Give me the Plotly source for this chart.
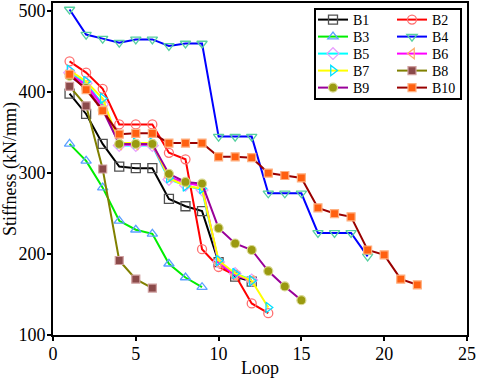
import plotly.graph_objects as go

names = ["B1", "B2", "B3", "B4", "B5", "B6", "B7", "B8", "B9", "B10"]
B1 = [398, 373, 336, 308, 306, 306, 268, 259, 253, 190, 172, 166]
B2 = [438, 424, 404, 360, 360, 360, 325, 317, 206, 184, 174, 139, 127]
B3 = [336, 315, 282, 241, 230, 225, 188, 171, 159]
B4 = [502, 471, 466, 461, 465, 465, 457, 460, 460, 345, 345, 345, 275, 275, 275, 226, 226, 226, 197]
B5 = [424, 411, 385, 334, 334, 334, 292, 285, 279, 190, 176, 168]
B6 = [422, 409, 383, 335, 335, 335, 295, 288, 284, 189, 174, 167]
B7 = [427, 413, 392, 337, 337, 337, 294, 284, 281, 192, 176, 167, 134]
B8 = [407, 383, 305, 192, 169, 158]
B9 = [420, 405, 378, 336, 336, 336, 299, 289, 287, 232, 213, 205, 179, 160, 143]
B10 = [422, 403, 377, 348, 349, 349, 337, 337, 337, 320, 320, 319, 300, 297, 294, 257, 250, 246, 205, 199, 169, 162]
series = [B1, B2, B3, B4, B5, B6, B7, B8, B9, B10]

line_colors = ["#000000", "#ff0000", "#00ee00", "#0000ff", "#00ffff",
               "#ff00ff", "#ffff00", "#808000", "#990099", "#990000"]
symbols = ["square-open", "circle-open", "triangle-up-open", "triangle-down-open",
           "diamond-open", "triangle-left-open", "triangle-right-open",
           "square", "circle", "square"]
mk_colors = ["#505050", "#ff7070", "#5aa0ff", "#55d0a0", "#e8a0ff",
             "#ffb070", "#00e0ff", "#8b4a4a", "#9a9a10", "#ff6010"]
mk_line = ["#505050", "#ff7070", "#5aa0ff", "#55d0a0", "#e8a0ff",
           "#ffb070", "#00e0ff", "#d0a0a0", "#d8d890", "#ffb080"]

FONT = "Liberation Serif, Times New Roman, serif"
fig = go.Figure()

L, R, T, B = 53, 10, 3, 43
W, H = 477, 378
pw, ph = W - L - R, H - T - B

def px2x(p):
    return (p - L) / pw

def py2y(p):
    return 1 - (p - T) / ph

row_centers = [20, 37, 54, 71, 88]
col_left = [313, 392]

layout_legends = {}
for i, (n, ys) in enumerate(zip(names, series)):
    xs = list(range(1, len(ys) + 1))
    lg = "legend" if i == 0 else f"legend{i+1}"
    filled = not symbols[i].endswith("open")
    fig.add_trace(go.Scatter(
        x=xs, y=ys, name=n, mode="lines+markers",
        line=dict(color=line_colors[i], width=2),
        marker=dict(symbol=symbols[i], size=9 if i != 7 and i != 9 else 8,
                    color=mk_colors[i],
                    line=dict(color=mk_line[i], width=1.2 if filled else 1.3)),
        legend=lg,
    ))
    r, c = i // 2, i % 2
    layout_legends[lg] = dict(
        x=px2x(col_left[c]), y=py2y(row_centers[r]),
        xanchor="left", yanchor="middle",
        bgcolor="rgba(0,0,0,0)", borderwidth=0,
        font=dict(family=FONT, size=14, color="black"),
        itemwidth=30,
    )

fig.update_layout(**layout_legends)

fig.add_shape(type="rect", xref="paper", yref="paper",
              x0=px2x(315), x1=px2x(461), y0=py2y(99), y1=py2y(9),
              line=dict(color="black", width=2), fillcolor="rgba(0,0,0,0)")

axis_common = dict(
    showgrid=False, zeroline=False, showline=True, linecolor="black", linewidth=2,
    mirror=True, ticks="outside", ticklen=4, tickwidth=1.5, tickcolor="black",
    tickfont=dict(family=FONT, size=18, color="black"), automargin=False,
)

fig.update_xaxes(range=[0, 25], tick0=0, dtick=5, ticklabelstandoff=-3,
                 title=dict(text="Loop", font=dict(family=FONT, size=18, color="black"), standoff=0),
                 **axis_common)
fig.update_yaxes(range=[100, 510], tick0=100, dtick=100, ticklabelstandoff=-2,
                 title=dict(text="Stiffness (kN/mm)", font=dict(family=FONT, size=18, color="black"), standoff=0),
                 **axis_common)

fig.update_layout(
    width=W, height=H,
    margin=dict(l=L, r=R, t=T, b=B, autoexpand=False),
    paper_bgcolor="white", plot_bgcolor="white",
    font=dict(family=FONT, color="black"),
    showlegend=True,
)

fig.write_html("out.html", config={"displayModeBar": False},
               post_script="document.body.style.margin='0';document.body.style.overflow='hidden';")
